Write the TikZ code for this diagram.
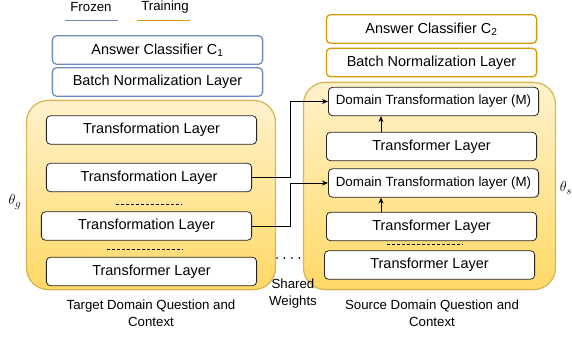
\documentclass[tikz,border=0pt]{standalone}
\usepackage{fontspec}
\setmainfont{Liberation Sans}
\usetikzlibrary{arrows.meta}
\definecolor{frozen}{HTML}{6C8EBF}
\definecolor{train}{HTML}{D79B00}
\definecolor{contstroke}{HTML}{D6B656}
\definecolor{conttop}{HTML}{FFF2CC}
\definecolor{contbot}{HTML}{FFD966}
\tikzset{
  layer/.style={draw=black!85, fill=white, rounded corners=4, line width=0.8,
    minimum width=211, minimum height=28.5, inner sep=0,
    font=\fontsize{14.5}{16}\selectfont},
  dlayer/.style={layer, font=\fontsize{13.4}{15}\selectfont},
  frozenbox/.style={layer, draw=frozen, line width=1.3},
  trainbox/.style={layer, draw=train, line width=1.3},
  container/.style={draw=contstroke, line width=1.3, rounded corners=22,
    top color=conttop, bottom color=contbot, inner sep=0},
  caption/.style={align=center, font=\fontsize{13.3}{17}\selectfont},
  theta/.style={font=\fontsize{15}{15}\selectfont},
  conn/.style={draw=black, line width=0.8, -{Stealth[length=6pt,width=5pt]}},
  dashsep/.style={draw=black, line width=0.7, dash pattern=on 3pt off 2pt},
}
\begin{document}
\begin{tikzpicture}[x=1bp,y=-1bp]
\useasboundingbox (0,0) rectangle (572,338);
% legend
\node[caption] (lfrozen) at (91,7) {Frozen};
\node[caption] (ltrain) at (165,7) {Training};
\coordinate (lf1) at (65,20.5); \coordinate (lf2) at (118,20.5);
\coordinate (lt1) at (137,20.5); \coordinate (lt2) at (190,20.5);
\draw[frozen, line width=1.5] (lf1) -- (lf2);
\draw[train, line width=1.5] (lt1) -- (lt2);
% containers
\node[container, minimum width=250, minimum height=190] (contL) at (151,195) {};
\node[container, minimum width=253, minimum height=208] (contR) at (429.5,186) {};
% left column
\node[frozenbox] (ac1) at (157.5,50) {Answer Classifier C\textsubscript{1}};
\node[frozenbox] (bn1) at (157.5,82) {Batch Normalization Layer};
\node[layer] (tl1) at (151.5,130) {Transformation Layer};
\node[layer, minimum width=206] (tl2) at (149,177.5) {Transformation Layer};
\node[layer] (tl3) at (146.5,226) {Transformation Layer};
\node[layer] (trl) at (151.5,271.5) {Transformer Layer};
\coordinate (d1a) at (116,204); \coordinate (d1b) at (182,204);
\coordinate (d2a) at (107,249); \coordinate (d2b) at (183,249);
\draw[dashsep] (d1a) -- (d1b);
\draw[dashsep] (d2a) -- (d2b);
\node[caption] (capL) at (151,313.5) {Target Domain Question and\\Context};
\node[theta] (thg) at (15,202) {$\theta_g$};
% right column
\node[trainbox] (ac2) at (431.5,29) {Answer Classifier C\textsubscript{2}};
\node[trainbox] (bn2) at (431.5,62.5) {Batch Normalization Layer};
\node[dlayer] (dtm1) at (433.5,101.5) {Domain Transformation layer (M)};
\node[layer] (tr1) at (431.5,146.5) {Transformer Layer};
\node[dlayer] (dtm2) at (433.5,183) {Domain Transformation layer (M)};
\node[layer] (tr2) at (431.5,226.5) {Transformer Layer};
\node[layer] (tr3) at (429.5,265) {Transformer Layer};
\coordinate (d3a) at (387,244); \coordinate (d3b) at (463,244);
\draw[dashsep] (d3a) -- (d3b);
\node[caption] (capR) at (432,313.5) {Source Domain Question and\\Context};
\node[theta] (ths) at (566,188) {$\theta_s$};
% small arrows
\coordinate (ax) at (381,0);
\draw[conn] (tr1.north -| ax) -- (dtm1.south -| ax);
\draw[conn] (tr2.north -| ax) -- (dtm2.south -| ax);
% cross arrows
\coordinate (jx) at (290,0);
\draw[conn] (tl2.east) -- (tl2.east -| jx) |- (dtm1.west);
\draw[conn] (tl3.east) -- (tl3.east -| jx) |- (dtm2.west);
% shared weights
\coordinate (sw1) at (277,258); \coordinate (sw2) at (300,258);
\draw[line width=2, line cap=round, dash pattern=on 0pt off 7.5pt] (sw1) -- (sw2);
\node[caption] (shared) at (293,293.5) {Shared\\Weights};
\end{tikzpicture}
\end{document}
